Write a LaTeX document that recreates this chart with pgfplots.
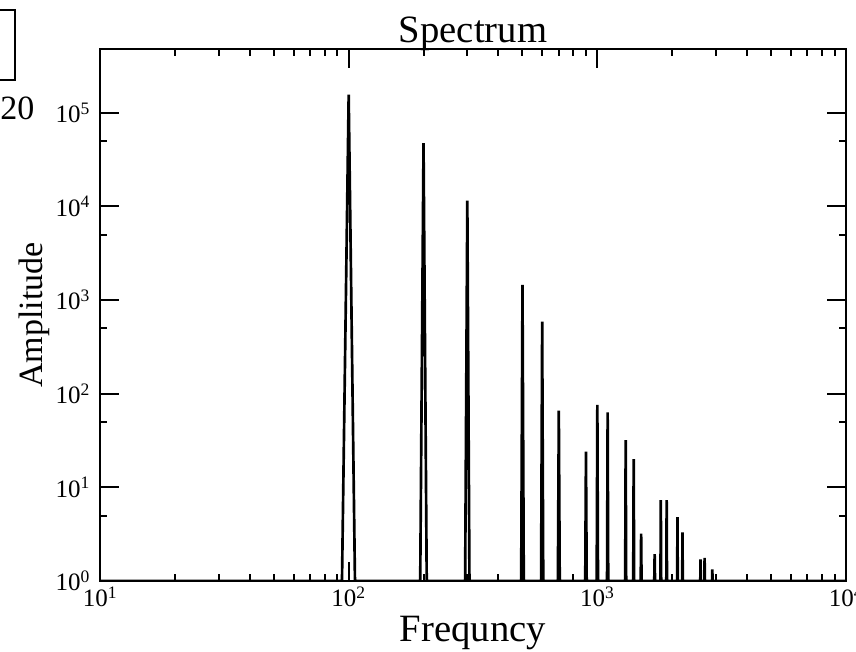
\documentclass[border=0pt]{standalone}
\usepackage{pgfplots}
\pgfplotsset{compat=1.18}
\usepackage{fontspec}
\setmainfont{Liberation Serif}
\begin{document}
\begin{tikzpicture}
\useasboundingbox (0,0) rectangle (642pt,489pt);
% fragment of a neighbouring frame at the left edge
\draw[line width=2.2pt] (-10pt,481.5pt) -| (11.25pt,429pt) -- (-10pt,429pt);
\node[anchor=base west, inner sep=0pt, font=\fontsize{25.5}{27}\selectfont] at (0pt,399pt) {20};
\begin{loglogaxis}[
  scale only axis,
  width=559.5pt, height=399pt,
  at={(75pt,53.25pt)}, anchor=south west,
  xmin=10, xmax=10000, ymin=1, ymax=4.8e5,
  axis line style={line width=2pt},
  every tick/.style={black, line width=1.5pt},
  tick align=inside,
  major tick length=14.25pt, minor tick length=5.5pt,
  xtick={10,100,1000,10000},
  xticklabels={10\textsuperscript{1},10\textsuperscript{2},10\textsuperscript{3},10\textsuperscript{4}},
  minor xtick={20,30,40,50,60,70,80,90,200,300,400,500,600,700,800,900,2000,3000,4000,5000,6000,7000,8000,9000},
  ytick={1,10,100,1000,10000,100000},
  yticklabels={10\textsuperscript{0},10\textsuperscript{1},10\textsuperscript{2},10\textsuperscript{3},10\textsuperscript{4},10\textsuperscript{5}},
  minor ytick={5,50,500,5000,50000},
  tick label style={font=\fontsize{18.75}{20}\selectfont},
  xticklabel style={inner sep=1.5pt, yshift=-2.5pt},
  yticklabel style={xshift=-4pt},
  title={Spectrum},
  title style={font=\fontsize{29}{31}\selectfont, at={(axis description cs:0.5,0.998)}, anchor=base, inner sep=0pt},
  xlabel={Frequncy},
  xlabel style={font=\fontsize{29}{31}\selectfont, at={(axis description cs:0.5,-0.113)}, anchor=base, inner sep=0pt},
  ylabel={Amplitude},
  ylabel style={font=\fontsize{25.5}{27}\selectfont, at={(axis description cs:-0.0777,0.5)}, anchor=base, inner sep=0pt},
]
\addplot[black, line width=2pt, line join=miter] coordinates {
 (10,1) (94,1) (100,1.56e5) (106,1)
 (194,1) (200,4.75e4) (206,1)
 (294,1) (300,1.15e4) (306,1)
 (494,1) (500,1450) (506,1)
 (594,1) (600,589) (606,1)
 (694,1) (700,66) (706,1)
 (894,1) (900,24) (906,1)
 (994,1) (1000,76) (1006,1)
 (1094,1) (1100,63) (1106,1)
 (1294,1) (1300,32) (1306,1)
 (1394,1) (1400,20) (1406,1)
 (1494,1) (1500,3.2) (1506,1)
 (1694,1) (1700,1.93) (1706,1)
 (1794,1) (1800,7.3) (1806,1)
 (1894,1) (1900,7.3) (1906,1)
 (2094,1) (2100,4.8) (2106,1)
 (2194,1) (2200,3.3) (2206,1)
 (2594,1) (2600,1.7) (2606,1)
 (2694,1) (2700,1.77) (2706,1)
 (2894,1) (2900,1.33) (2906,1)
 (10000,1)
};
\end{loglogaxis}
\end{tikzpicture}
\end{document}
